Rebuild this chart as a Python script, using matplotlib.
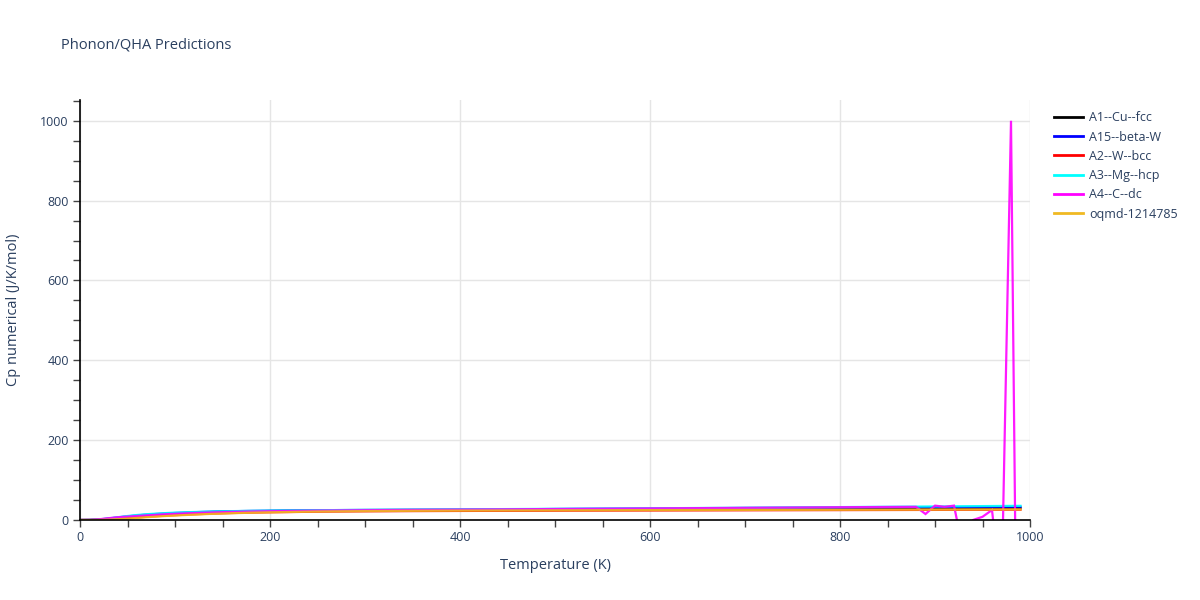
import matplotlib
matplotlib.use("Agg")
import matplotlib.pyplot as plt
from matplotlib.ticker import MultipleLocator

plt.rcParams['font.family'] = ['Open Sans', 'DejaVu Sans']

T = [0, 10, 20, 30, 40, 50, 60, 70, 80, 90, 100, 120, 140, 160, 180, 200,
     250, 300, 350, 400, 500, 600, 700, 800, 900, 990]

cp_a1 = [0, 0.1, 0.8, 2.5, 5, 7.5, 10, 12, 14, 15.5, 16.5, 18.5, 20, 21, 21.8, 22.4,
         23.3, 23.8, 24.2, 24.5, 25.2, 26, 27, 28, 29, 30]
cp_a15 = [0, 0.2, 1.2, 3.5, 6.5, 9, 11.5, 13.5, 15, 16.5, 17.5, 19.5, 21, 22, 22.8, 23.4,
          24.5, 25.2, 25.8, 26.3, 27.5, 28.8, 30, 31, 32.2, 33.2]
cp_a2 = [0, 0.05, 0.4, 1.3, 2.8, 4.5, 6.3, 8, 9.5, 10.8, 12, 14.3, 16, 17.5, 18.5, 19.3,
         20.8, 21.7, 22.3, 22.7, 23.3, 23.8, 24.3, 24.8, 25.3, 25.8]
cp_a3 = [0, 0.2, 1.5, 4, 7, 10, 12.5, 14.5, 16, 17.3, 18.5, 20, 21.3, 22.2, 22.9, 23.4,
         24.5, 25.3, 26, 26.7, 28, 29.3, 30.8, 32.3, 34, 35.5]
cp_oqmd = [0, 0, 0.2, 0.8, 2, 3.5, 5.2, 7, 8.5, 10, 11.3, 13.5, 15.5, 17, 18.3, 19.3,
           21.2, 22.3, 23, 23.5, 24.2, 24.8, 25.3, 25.7, 26.1, 26.5]

T_a4 = [0, 10, 20, 30, 40, 50, 60, 70, 80, 90, 100, 120, 140, 160, 180, 200,
        250, 300, 350, 400, 500, 600, 700, 800, 880, 890, 900, 910, 920, 930,
        940, 950, 960, 970, 980, 990]
cp_a4 = [0, 0.3, 1.8, 4.5, 7, 8.5, 10, 11.5, 13, 14.5, 15.5, 17.5, 19, 20.3, 21.2, 22,
         23.5, 24.5, 25.3, 26, 27.5, 29, 30.5, 32, 33, 15, 36, 33, 36, -80,
         0, 8, 25, -190, 1000, -1300]

series = [
    ("A1--Cu--fcc", T, cp_a1, "#000000"),
    ("A15--beta-W", T, cp_a15, "#0000ff"),
    ("A2--W--bcc", T, cp_a2, "#ff0000"),
    ("A3--Mg--hcp", T, cp_a3, "#00ffff"),
    ("A4--C--dc", T_a4, cp_a4, "#ff00ff"),
    ("oqmd-1214785", T, cp_oqmd, "#f0b922"),
]

fig = plt.figure(figsize=(12, 6), dpi=100)
ax = fig.add_axes([80/1200, 1-520/600, 950/1200, 420/600])

for name, x, y, c in series:
    ax.plot(x, y, color=c, lw=1.6, label=name, alpha=0.9, solid_joinstyle='miter')

ax.set_xlim(0, 1000)
ax.set_ylim(0, 1052)
ax.xaxis.set_major_locator(MultipleLocator(200))
ax.xaxis.set_minor_locator(MultipleLocator(50))
ax.yaxis.set_major_locator(MultipleLocator(200))
ax.yaxis.set_minor_locator(MultipleLocator(50))
ax.grid(True, which='major', color='#e5e5e5', lw=1)
ax.set_axisbelow(True)

for s in ['top', 'right']:
    ax.spines[s].set_visible(False)
for s in ['left', 'bottom']:
    ax.spines[s].set_color('#000000')
    ax.spines[s].set_linewidth(1.2)

txtc = '#2a3f5f'
ax.tick_params(which='major', direction='out', length=5, width=1, color='#444444',
               labelsize=9, labelcolor=txtc, pad=3)
ax.tick_params(which='minor', direction='out', length=5, width=1, color='#444444')

ax.set_xlabel("Temperature (K)", fontsize=10.5, color=txtc, labelpad=10)
ax.set_ylabel("Cp numerical (J/K/mol)", fontsize=10.5, color=txtc, labelpad=14)

fig.text(61/1200, 1-45/600, "Phonon/QHA Predictions", fontsize=10.5, color=txtc,
         va='center', ha='left')

leg = ax.legend(loc='upper left', bbox_to_anchor=(1.02, 0.985), frameon=False,
                fontsize=9, handlelength=2.3, handletextpad=0.5, labelspacing=0.5,
                borderaxespad=0)
for t in leg.get_texts():
    t.set_color(txtc)
for l in leg.get_lines():
    l.set_linewidth(2)
    l.set_alpha(1)

fig.savefig("out.png", dpi=100)
